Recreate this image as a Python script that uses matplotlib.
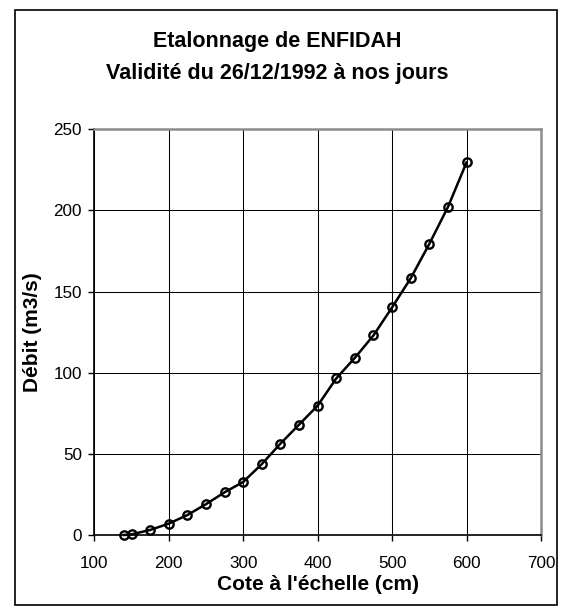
import matplotlib
matplotlib.use("Agg")
import matplotlib.pyplot as plt
from matplotlib.patches import Rectangle

plt.rcParams['font.family'] = ['Liberation Sans', 'DejaVu Sans']

cote = [140, 150, 175, 200, 225, 250, 275, 300, 325, 350, 375, 400,
        425, 450, 475, 500, 525, 550, 575, 600]
debit = [0.0, 0.4, 3.1, 7.0, 12.3, 19.0, 26.3, 32.7, 43.7, 56.3, 68.0, 79.7,
         96.5, 109.2, 123.0, 140.3, 158.2, 179.4, 202.1, 229.6]
xticks = [100, 200, 300, 400, 500, 600, 700]
yticks = [0, 50, 100, 150, 200, 250]

W, H = 571, 608
fig = plt.figure(figsize=(W / 100, H / 100), dpi=100)
fig.patch.set_facecolor('white')

# outer frame
fig.patches.append(Rectangle((15 / W, 1 - 605 / H), (557 - 15) / W, (605 - 10) / H,
                             transform=fig.transFigure, fill=False,
                             edgecolor='black', linewidth=1.2, zorder=0))

l, r, t, b = 94.3, 541, 129.3, 535
ax = fig.add_axes([l / W, 1 - b / H, (r - l) / W, (b - t) / H])

ax.plot(cote, debit, color='black', linewidth=1.8, marker='o', markersize=6,
        markerfacecolor='none', markeredgecolor='black', markeredgewidth=1.7,
        zorder=3, clip_on=False)

ax.set_xlim(100, 700)
ax.set_ylim(0, 250)
ax.set_xticks(xticks)
ax.set_yticks(yticks)
ax.grid(True, color='black', linewidth=0.75)
ax.set_axisbelow(True)

for s in ['left', 'bottom']:
    ax.spines[s].set_color('black')
    ax.spines[s].set_linewidth(1.2)
for s in ['top', 'right']:
    ax.spines[s].set_color('#8c8c8c')
    ax.spines[s].set_linewidth(1.8)

ax.tick_params(axis='both', direction='out', length=4, width=1, color='black',
               labelsize=12.3)
ax.tick_params(axis='x', pad=11)
ax.tick_params(axis='y', pad=5)

ax.set_xlabel("Cote à l'échelle (cm)", fontsize=15, fontweight='bold', labelpad=3)
ax.set_ylabel("Débit (m3/s)", fontsize=15, fontweight='bold', labelpad=8)

fig.text(0.485, 1 - 42 / H, "Etalonnage de ENFIDAH", ha='center', va='center',
         fontsize=15.5, fontweight='bold')
fig.text(0.485, 1 - 73 / H, "Validité du 26/12/1992 à nos jours", ha='center', va='center',
         fontsize=15.5, fontweight='bold')

fig.savefig('out.png', dpi=100)
